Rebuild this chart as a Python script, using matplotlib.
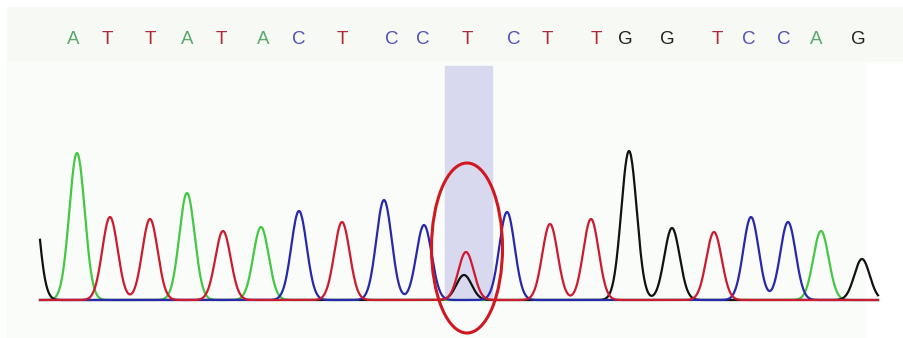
import numpy as np
import matplotlib.pyplot as plt
from matplotlib.patches import Ellipse, Rectangle

# called bases and their positions along the trace
bases = list("ATTATACTCCTCTTGGTCCAG")
base_pos = [73, 107, 150, 187, 221, 263, 299, 342, 392, 423, 467,
            514, 547, 596, 625, 667, 717, 749, 784, 816, 858]

# peaks per channel: (scan position, height)
peaks_A = [(77, 147), (187, 107), (261, 73), (821, 69)]
peaks_T = [(110, 83), (150, 81), (223, 69), (342, 78), (466, 48),
           (550, 76), (591, 81), (714, 68)]
peaks_C = [(299, 89), (384, 100), (424, 75), (507, 88), (751, 83), (788, 78)]
peaks_G = [(30, 140), (464, 25), (629, 149), (672, 72), (862, 41)]

letter_colors = {"A": "#5aa86a", "T": "#b02838", "C": "#5050b8", "G": "#222222"}
trace_colors = {"A": "#44c844", "T": "#cc1a30", "C": "#2828ac", "G": "#111111"}

x = np.linspace(40, 878, 1600)


def trace(peaks, sigma=7.7):
    y = np.zeros_like(x)
    for p, h in peaks:
        y += h * np.exp(-0.5 * ((x - p) / sigma) ** 2)
    return y


fig = plt.figure(figsize=(9.04, 3.38), dpi=100)
ax = fig.add_axes([0, 0, 1, 1])
ax.set_xlim(0, 904)
ax.set_ylim(-38, 300)
ax.axis("off")

# light panel background
ax.add_patch(Rectangle((7, 239), 897, 54, color="#f6f9f4", zorder=0))
ax.add_patch(Rectangle((7, -38), 858, 277, color="#fafcf9", zorder=0))

# highlighted position
ax.add_patch(Rectangle((445, 0), 47, 234, color="#d8d8ee", zorder=1))

channels = {"A": peaks_A, "T": peaks_T, "C": peaks_C, "G": peaks_G}
for b in ["A", "G", "C", "T"]:
    ax.plot(x, trace(channels[b]), color=trace_colors[b], lw=1.6, zorder=2)

for b, p in zip(bases, base_pos):
    ax.text(p, 260, b, color=letter_colors[b], fontsize=13.5,
            family="Liberation Sans", ha="center", va="center")

ax.add_patch(Ellipse((467, 52), 71, 170, fill=False, ec="#d01820", lw=2.2, zorder=3))

fig.savefig("out.png", dpi=100)
